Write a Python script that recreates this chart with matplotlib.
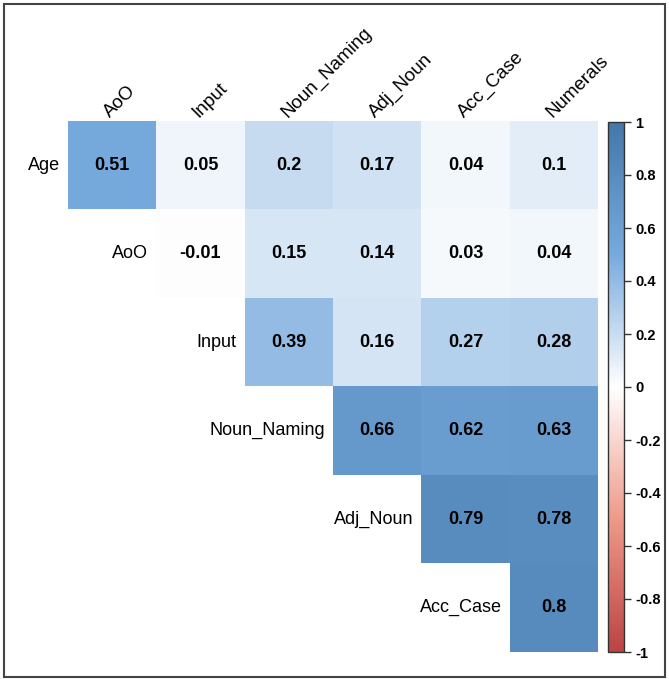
"""
Matriz de correlaciones (triángulo superior) entre edad, AoO, input
y las tareas lingüísticas, con barra de color de -1 a 1.
"""

import numpy as np
import matplotlib.pyplot as plt
from matplotlib.colors import LinearSegmentedColormap
from matplotlib.patches import Rectangle

plt.rcParams["font.family"] = ["Liberation Sans", "DejaVu Sans"]

filas = ["Age", "AoO", "Input", "Noun_Naming", "Adj_Noun", "Acc_Case"]
columnas = ["AoO", "Input", "Noun_Naming", "Adj_Noun", "Acc_Case", "Numerals"]

nan = np.nan
correlaciones = np.array([
    [0.51, 0.05, 0.20, 0.17, 0.04, 0.10],
    [nan, -0.01, 0.15, 0.14, 0.03, 0.04],
    [nan, nan, 0.39, 0.16, 0.27, 0.28],
    [nan, nan, nan, 0.66, 0.62, 0.63],
    [nan, nan, nan, nan, 0.79, 0.78],
    [nan, nan, nan, nan, nan, 0.80],
])

ticks_barra = [-1, -0.8, -0.6, -0.4, -0.2, 0, 0.2, 0.4, 0.6, 0.8, 1]

# Paleta clásica de corrplot (rojo -> blanco -> azul)
paleta = LinearSegmentedColormap.from_list(
    "corr", ["#BB4444", "#EE9988", "#FFFFFF", "#77AADD", "#4477AA"], N=200)
paleta.set_bad("white")

W, H = 669, 679
fig = plt.figure(figsize=(W / 100, H / 100), dpi=100)


def caja(x0, y0, x1, y1):
    # convierte un rectángulo en píxeles (origen arriba-izquierda) a coords de figura
    return [x0 / W, 1 - y1 / H, (x1 - x0) / W, (y1 - y0) / H]


# -----------------------------
# Celdas
# -----------------------------
ax = fig.add_axes(caja(68, 121, 598, 652))
datos = np.ma.masked_invalid(correlaciones)
img = ax.imshow(datos, cmap=paleta, vmin=-1, vmax=1, aspect="auto",
                interpolation="nearest")
ax.set_xlim(-0.5, len(columnas) - 0.5)
ax.set_ylim(len(filas) - 0.5, -0.5)
ax.axis("off")

for i in range(len(filas)):
    for j in range(len(columnas)):
        v = correlaciones[i, j]
        if np.isnan(v):
            continue
        ax.text(j, i, f"{v:g}", ha="center", va="center",
                fontsize=13, fontweight="bold", color="black")

# etiquetas de fila junto a la diagonal
for i, nombre in enumerate(filas):
    ax.text(i - 0.59, i, nombre, ha="right", va="center", fontsize=13,
            clip_on=False)

# etiquetas de columna giradas 45 grados
for j, nombre in enumerate(columnas):
    ax.text(j - 0.02, -0.53, nombre, ha="left", va="baseline", rotation=45,
            rotation_mode="anchor", fontsize=13.5, clip_on=False)

# -----------------------------
# Barra de color
# -----------------------------
cax = fig.add_axes(caja(608, 122, 624, 652))
cb = fig.colorbar(img, cax=cax, ticks=ticks_barra)
cb.outline.set_edgecolor("#333333")
cb.outline.set_linewidth(1.0)
cb.ax.set_yticklabels([f"{t:g}" for t in ticks_barra])
cb.ax.tick_params(length=5, width=1, color="#333333", pad=3, labelsize=10.5)
for t in cb.ax.get_yticklabels():
    t.set_fontweight("bold")

# marco exterior
fig.patches.append(Rectangle((4 / W, 2 / H), 661 / W, 673 / H,
                             transform=fig.transFigure, fill=False,
                             edgecolor="#444444", linewidth=1.5))

fig.savefig("out.png", dpi=100)
